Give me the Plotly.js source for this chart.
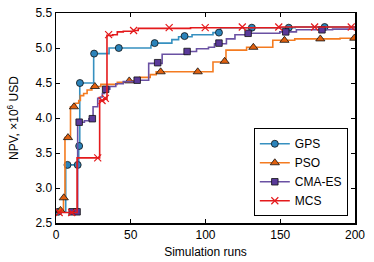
<!DOCTYPE html>
<html><head><meta charset="utf-8">
<script src="https://cdn.plot.ly/plotly-3.0.1.min.js"></script>
<style>html,body{margin:0;padding:0;background:#fff;}#chart{width:374px;height:262px;}</style>
</head><body><div id="chart"></div>
<script>
// GPS
const gpsRuns = [1, 6.5, 15.2, 15.9, 25.2, 35.5, 63.5, 65.5, 77.5, 82, 91, 105, 110, 160, 200];
const gpsNpv  = [2.66, 3.33, 3.60, 4.50, 4.92, 5.00, 5.04, 5.07, 5.12, 5.16, 5.19, 5.22, 5.29, 5.30, 5.30];
const gpsMarkRuns = [1.5, 7.7, 14.5, 15.5, 16, 25.5, 42, 66, 86, 109, 131, 155.7, 179.7];
const gpsMarkNpv  = [2.66, 3.33, 3.33, 3.60, 4.50, 4.92, 5.00, 5.07, 5.17, 5.22, 5.29, 5.29, 5.30];
// PSO
const psoRuns = [1, 3, 5, 6, 9.7, 13, 15.2, 16.3, 18.5, 20.8, 24, 30, 41, 48, 56, 63, 67, 105, 113.7, 127.5, 145, 159.7, 190, 200];
const psoNpv  = [2.65, 2.68, 2.86, 3.72, 4.16, 4.21, 4.25, 4.32, 4.35, 4.40, 4.45, 4.48, 4.51, 4.53, 4.58, 4.62, 4.66, 4.80, 4.97, 5.01, 5.11, 5.13, 5.14, 5.14];
const psoMarkRuns = [3, 5.2, 8, 12, 26, 49, 70, 94.8, 112.8, 132, 152.8, 176.8, 199.5];
const psoMarkNpv  = [2.68, 2.86, 3.72, 4.16, 4.45, 4.53, 4.66, 4.66, 4.81, 5.01, 5.11, 5.13, 5.14];
// CMA-ES
const cmaRuns = [10.8, 14.5, 19, 22, 24.8, 27.9, 29.7, 31, 32.5, 36, 40, 45, 54, 62, 71, 88, 94, 102, 106, 114, 119.7, 130, 149.7, 160.8, 185, 200];
const cmaNpv  = [2.66, 3.94, 3.96, 3.99, 4.16, 4.28, 4.30, 4.35, 4.41, 4.45, 4.49, 4.52, 4.54, 4.78, 4.91, 4.95, 4.99, 5.01, 5.06, 5.13, 5.19, 5.21, 5.23, 5.26, 5.27, 5.27];
const cmaMarkRuns = [10.8, 14.1, 15.5, 24.3, 33.2, 54.3, 68, 87.7, 109, 128.5, 153.7, 177.9];
const cmaMarkNpv  = [2.66, 2.66, 3.94, 3.99, 4.41, 4.54, 4.79, 4.95, 5.07, 5.21, 5.23, 5.26];
// MCS
const mcsRuns = [1, 14.1, 29.2, 32, 34.1, 38, 41, 45, 52, 55, 90, 150, 200];
const mcsNpv  = [2.65, 3.43, 4.25, 4.27, 5.18, 5.19, 5.23, 5.24, 5.25, 5.28, 5.29, 5.30, 5.30];
const mcsMarkRuns = [2.1, 10.5, 27.9, 30.8, 33, 35.2, 51.9, 75.7, 99.8, 124.6, 149, 173, 197.5];
const mcsMarkNpv  = [2.65, 2.65, 3.43, 4.25, 4.28, 5.19, 5.25, 5.29, 5.29, 5.30, 5.30, 5.30, 5.30];

const names = ['GPS', 'PSO', 'CMA-ES', 'MCS'];
const xTicks = [0, 50, 100, 150, 200];
const yTicks = [2.5, 3.0, 3.5, 4.0, 4.5, 5.0, 5.5];
const yTitle = 'NPV, ×10<sup>6</sup> USD';

const series = [
  {name: names[0], x: gpsRuns, y: gpsNpv, mx: gpsMarkRuns, my: gpsMarkNpv, lc: '#3690c0',
   marker: {symbol: 'circle', size: 7, color: '#2b83ba', line: {color: '#111', width: 0.8}}},
  {name: names[1], x: psoRuns, y: psoNpv, mx: psoMarkRuns, my: psoMarkNpv, lc: '#f47b20',
   marker: {symbol: 'triangle-up', size: 8, color: '#e0600f', line: {color: '#111', width: 0.8}}},
  {name: names[2], x: cmaRuns, y: cmaNpv, mx: cmaMarkRuns, my: cmaMarkNpv, lc: '#6a51a3',
   marker: {symbol: 'square', size: 6.5, color: '#5a3a9a', line: {color: '#111', width: 0.8}}},
  {name: names[3], x: mcsRuns, y: mcsNpv, mx: mcsMarkRuns, my: mcsMarkNpv, lc: '#e41a1c',
   marker: {symbol: 'x-thin', size: 7, color: '#e41a1c', line: {color: '#e41a1c', width: 1.2}}}
];

const traces = [];
series.forEach(s => {
  traces.push({x: s.x, y: s.y, mode: 'lines', line: {color: s.lc, width: 1.6, shape: 'hv'},
               showlegend: false, hoverinfo: 'skip'});
  traces.push({x: s.mx, y: s.my, mode: 'markers', marker: s.marker, showlegend: false});
});
series.forEach(s => {
  traces.push({x: [null], y: [null], name: s.name, mode: 'lines+markers',
               line: {color: s.lc, width: 1.6}, marker: s.marker});
});

const FONT = 'Liberation Sans, Arial, sans-serif';
const axisCommon = {
  showgrid: false, zeroline: false, showline: true, mirror: 'ticks',
  linecolor: '#000', linewidth: 1.5, ticks: 'inside', ticklen: 4, tickwidth: 1,
  tickcolor: '#000', tickfont: {family: FONT, size: 12, color: '#000'}
};

const layout = {
  width: 374, height: 262,
  margin: {l: 55.5, r: 18.5, t: 12.7, b: 39.3},
  paper_bgcolor: '#fff', plot_bgcolor: '#fff',
  font: {family: FONT, size: 12, color: '#000'},
  xaxis: Object.assign({}, axisCommon, {
    range: [0, 200], tickvals: xTicks, ticktext: xTicks.map(String),
    title: {text: 'Simulation runs', font: {family: FONT, size: 12}, standoff: 6}
  }),
  yaxis: Object.assign({}, axisCommon, {
    range: [2.5, 5.5], tickvals: yTicks, ticktext: yTicks.map(v => v.toFixed(1))
  }),
  annotations: [{
    text: yTitle, textangle: -90, xref: 'paper', yref: 'paper',
    x: 0, y: 0.5, xanchor: 'center', yanchor: 'middle', xshift: -43,
    showarrow: false, font: {family: FONT, size: 12, color: '#000'}
  }],
  legend: {x: 0.976, y: 0.032, xanchor: 'right', yanchor: 'bottom',
           bgcolor: '#fff', bordercolor: '#000', borderwidth: 1,
           font: {family: FONT, size: 12}, tracegroupgap: 0, itemwidth: 30},
  showlegend: true
};

Plotly.newPlot('chart', traces, layout, {displayModeBar: false, staticPlot: true});
</script>
</body></html>
